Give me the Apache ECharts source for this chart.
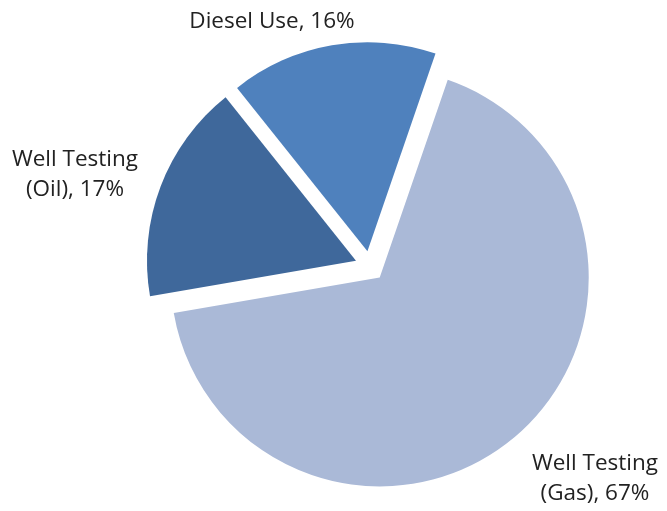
<!DOCTYPE html>
<html>
<head>
<meta charset="utf-8">
<script src="https://cdn.jsdelivr.net/npm/echarts@6/dist/echarts.min.js"></script>
<style>html,body{margin:0;padding:0;background:#fff}#c{width:667px;height:511px}</style>
</head>
<body>
<div id="c"></div>
<script>
var categories = ['Well Testing\n(Gas)', 'Well Testing\n(Oil)', 'Diesel Use'];
var shares = [67, 17, 16];
var colors = ['#AAB9D7', '#3F689B', '#4F81BD'];

// label anchor (centre of text block) per slice
var labelAnchors = [[595, 479], [75, 175], [272, 22]];

var chart = echarts.init(document.getElementById('c'), null, {renderer: 'canvas'});
chart.setOption({
  animation: false,
  graphic: categories.map(function (n, i) {
    return {
      type: 'text',
      x: labelAnchors[i][0],
      y: labelAnchors[i][1],
      silent: true,
      style: {
        text: n + ', ' + shares[i] + '%',
        fill: '#222',
        font: '22.5px "Open Sans"',
        lineHeight: 30,
        align: 'center',
        verticalAlign: 'middle'
      }
    };
  }),
  series: [{
    type: 'pie',
    center: [370, 266],
    radius: [0, 209],
    startAngle: 71,
    clockwise: true,
    selectedMode: 'multiple',
    selectedOffset: 15,
    emphasis: {disabled: true},
    itemStyle: {borderWidth: 0},
    label: {show: false},
    labelLine: {show: false},
    data: categories.map(function (n, i) {
      return {name: n, value: shares[i], selected: true, itemStyle: {color: colors[i]}};
    })
  }]
});
</script>
</body>
</html>
